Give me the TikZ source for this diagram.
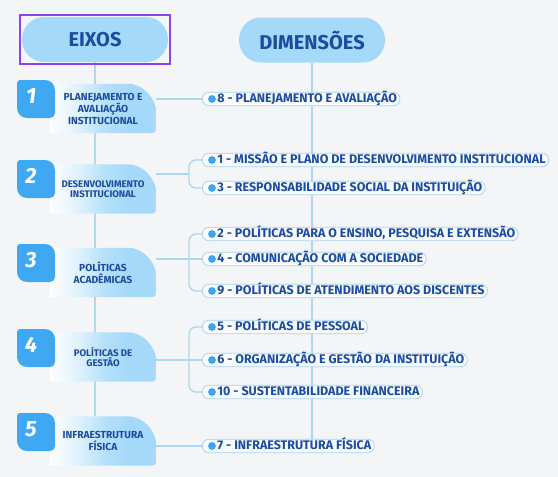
\documentclass[tikz,border=0pt]{standalone}
\usepackage{fontspec}
\setmainfont{Fira Sans}
\usetikzlibrary{calc,fit,backgrounds}
\definecolor{paper}{HTML}{F4F5F7}
\definecolor{pill}{HTML}{A5D9F9}
\definecolor{navy}{HTML}{1B4C9E}
\definecolor{badge}{HTML}{3EA9F2}
\definecolor{linkline}{HTML}{ADD7F3}
\definecolor{itemline}{HTML}{A9D3F0}
\definecolor{itemfill}{HTML}{F9FBFE}
\definecolor{dotblue}{HTML}{3DA6F0}
\definecolor{select}{HTML}{8A44EE}
\colorlet{pillpale}{pill!35!white}
\colorlet{pillmid}{pill!85!white}
\pgfdeclarehorizontalshading{eixofade}{100bp}{color(0bp)=(white); color(25bp)=(white);
  color(38bp)=(pillpale); color(52bp)=(pillmid); color(62bp)=(pill); color(100bp)=(pill)}
\tikzset{
  header/.style={fill=pill, rounded corners=22pt, minimum width=146pt, minimum height=45pt,
                 font=\fontsize{20}{24}\selectfont\bfseries, text=navy},
  eixo/.style={minimum width=106pt, minimum height=49pt, align=center, text=navy,
               font=\fontsize{10.2}{12}\selectfont\bfseries},
  eixosmall/.style={eixo, font=\fontsize{9.6}{10.5}\selectfont\bfseries},
  eixofill/.style={shading=eixofade},
  number/.style={text=white, font=\fontsize{22}{22}\selectfont\bfseries\itshape},
  dimitem/.style={draw=itemline, fill=itemfill, line width=0.8pt, rounded corners=6.5pt,
                  anchor=west, text height=8.7pt, text depth=2.4pt, inner ysep=1.2pt, inner xsep=3pt,
                  text=navy, font=\fontsize{12.5}{14}\selectfont\bfseries,
                  execute at begin node=\hspace*{12pt}},
  dimdot/.style={fill=dotblue},
  trunk/.style={draw=linkline, line width=2.6pt},
  link/.style={draw=linkline, line width=1.4pt, rounded corners=7pt},
  selbox/.style={draw=select, line width=2pt, inner sep=1.6pt},
  badgeleaf/.pic={\fill[badge] (-16,-19) -- (9,-19) .. controls (14.5,-19) and (19,-14.5) .. (19,-9)
    -- (19,14) .. controls (19,16.8) and (16.8,19) .. (14,19)
    -- (-9,19) .. controls (-14.5,19) and (-19,14.5) .. (-19,9)
    -- (-19,-16) .. controls (-19,-17.4) and (-17.4,-19) .. (-16,-19) -- cycle;},
}
\newcommand{\eixoshape}[1]{%
  \shade[eixofill] (#1.south west) -- (#1.north west)
    -- ($(#1.north east)+(-28,0)$)
    .. controls ($(#1.north east)+(-12.5,0)$) and ($(#1.north east)+(0,15.5)$) .. ($(#1.north east)+(0,28)$)
    -- ($(#1.south east)+(0,-4)$)
    .. controls ($(#1.south east)+(0,-1.8)$) and ($(#1.south east)+(-1.8,0)$) .. ($(#1.south east)+(-4,0)$)
    -- cycle;}

\begin{document}
\begin{tikzpicture}[x=1pt, y=-1pt]
  \useasboundingbox (0,0) rectangle (558,477);

  % headers
  \node[header] (eixos) at (95,39.5) {EIXOS};
  \node[selbox, fit=(eixos)] (sel) {};
  \node[header] (dim) at (312,40) {DIMENSÕES};

  % eixos
  \node[eixo] (e1) at (103,108.5) {PLANEJAMENTO E\\AVALIAÇÃO\\INSTITUCIONAL};
  \node[eixosmall] (e2) at (103,189) {DESENVOLVIMENTO\\INSTITUCIONAL};
  \node[eixo] (e3) at (103,272.5) {POLÍTICAS\\ACADÊMICAS};
  \node[eixosmall] (e4) at (103,357) {POLÍTICAS DE\\GESTÃO};
  \node[eixo] (e5) at (103,441) {INFRAESTRUTURA\\FÍSICA};

  % numbered badges
  \foreach \k/\y in {1/99,2/179,3/263,4/348,5/432}{
    \pic at (36,\y) {badgeleaf};
    \node[number] (n\k) at (31,\y-3) {\k};
  }

  % dimensoes
  \node[dimitem] (d8) at (202,99) {8 - PLANEJAMENTO E AVALIAÇÃO};
  \node[dimitem] (d1) at (202,160) {1 - MISSÃO E PLANO DE DESENVOLVIMENTO INSTITUCIONAL};
  \node[dimitem] (d3) at (202,188) {3 - RESPONSABILIDADE SOCIAL DA INSTITUIÇÃO};
  \node[dimitem] (d2) at (202,234) {2 - POLÍTICAS PARA O ENSINO, PESQUISA E EXTENSÃO};
  \node[dimitem] (d4) at (202,259) {4 - COMUNICAÇÃO COM A SOCIEDADE};
  \node[dimitem] (d9) at (202,291) {9 - POLÍTICAS DE ATENDIMENTO AOS DISCENTES};
  \node[dimitem] (d5) at (202,327) {5 - POLÍTICAS DE PESSOAL};
  \node[dimitem] (d6) at (202,360) {6 - ORGANIZAÇÃO E GESTÃO DA INSTITUIÇÃO};
  \node[dimitem] (d10) at (202,392) {10 - SUSTENTABILIDADE FINANCEIRA};
  \node[dimitem] (d7) at (202,446) {7 - INFRAESTRUTURA FÍSICA};

  \foreach \d in {8,1,3,2,4,9,5,6,10,7}
    \fill[dimdot] ($(d\d.west)+(10,0)$) circle (3.9pt);

  % trunks and eixo shapes behind everything
  \begin{scope}[on background layer]
    \fill[paper] (0,0) rectangle (558,477);
    \draw[trunk] (eixos.south) -- (eixos.south |- e5.north);
    \draw[trunk] (dim.south) -- (dim.south |- d7.north);
    \foreach \k in {1,...,5}{\eixoshape{e\k}}
  \end{scope}

  % connectors
  \coordinate (j2) at (189,174);
  \coordinate (j3) at (189,259);
  \coordinate (j4) at (189,360);
  \draw[link] (e1.east |- d8) -- (d8.west);
  \draw[link] (e2.east |- j2) -- (j2);
  \draw[link] (j2) |- (d1.west);
  \draw[link] (j2) |- (d3.west);
  \draw[link] (e3.east |- j3) -- (j3);
  \draw[link] (j3) |- (d2.west);
  \draw[link] (j3) -- (d4.west);
  \draw[link] (j3) |- (d9.west);
  \draw[link] (e4.east |- j4) -- (j4);
  \draw[link] (j4) |- (d5.west);
  \draw[link] (j4) -- (d6.west);
  \draw[link] (j4) |- (d10.west);
  \draw[link] (e5.east |- d7) -- (d7.west);
\end{tikzpicture}
\end{document}
